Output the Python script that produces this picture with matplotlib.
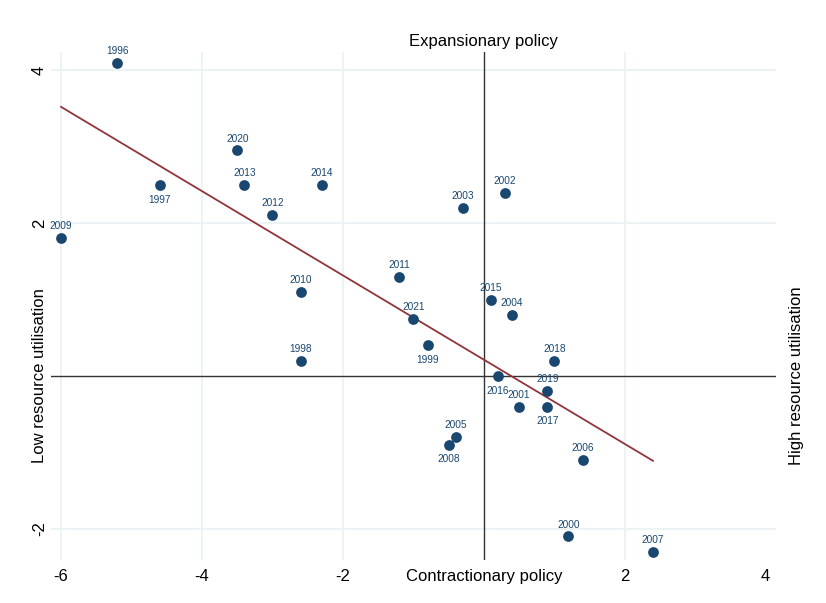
import matplotlib.pyplot as plt

# data
years = ['1996', '1997', '1998', '1999', '2000', '2001', '2002', '2003', '2004',
         '2005', '2006', '2007', '2008', '2009', '2010', '2011', '2012', '2013',
         '2014', '2015', '2016', '2017', '2018', '2019', '2020', '2021']
x_vals = [-5.2, -4.6, -2.6, -0.8, 1.2, 0.5, 0.3, -0.3, 0.4,
          -0.4, 1.4, 2.4, -0.5, -6.0, -2.6, -1.2, -3.0, -3.4,
          -2.3, 0.1, 0.2, 0.9, 1.0, 0.9, -3.5, -1.0]
y_vals = [4.1, 2.5, 0.2, 0.4, -2.1, -0.4, 2.4, 2.2, 0.8,
          -0.8, -1.1, -2.3, -0.9, 1.8, 1.1, 1.3, 2.1, 2.5,
          2.5, 1.0, 0.0, -0.4, 0.2, -0.2, 2.95, 0.75]
below = ['1997', '1999', '2016', '2017', '2008']

fit_x = [-6.0, 2.4]
fit_y = [3.52, -1.11]

x_ticks = [-6, -4, -2, 0, 2, 4]
x_ticklabels = ['-6', '-4', '-2', 'Contractionary policy', '2', '4']
y_ticks = [-2, 0, 2, 4]
y_ticklabels = ['-2', 'Low resource utilisation', '2', '4']

plt.rcParams['font.family'] = ['Liberation Sans', 'DejaVu Sans']

navy = '#1a476f'
maroon = '#90353b'
gridc = '#eaf2f3'

fig = plt.figure(figsize=(8.26, 6.03), dpi=100)
ax = fig.add_axes([0.062, 0.071, 0.877, 0.843])

for v in [-6, -4, -2, 2]:
    ax.axvline(v, color=gridc, lw=1.3, zorder=0)
for v in [-2, 2, 4]:
    ax.axhline(v, color=gridc, lw=1.3, zorder=0)
ax.axvline(0, color='#333333', lw=1.0, zorder=1)
ax.axhline(0, color='#333333', lw=1.0, zorder=1)

ax.plot(fit_x, fit_y, color=maroon, lw=1.3, zorder=2)
ax.scatter(x_vals, y_vals, s=60, color=navy, zorder=3, linewidths=0)

for yr, xv, yv in zip(years, x_vals, y_vals):
    if yr in below:
        ax.annotate(yr, (xv, yv), xytext=(0, -7), textcoords='offset points',
                    ha='center', va='top', fontsize=7.3, color=navy)
    else:
        ax.annotate(yr, (xv, yv), xytext=(0, 5), textcoords='offset points',
                    ha='center', va='bottom', fontsize=7.3, color=navy)

ax.set_xlim(-6.14, 4.14)
ax.set_ylim(-2.41, 4.24)
ax.set_xticks(x_ticks)
ax.set_xticklabels(x_ticklabels, fontsize=12)
ax.set_yticks(y_ticks)
ax.set_yticklabels(y_ticklabels, fontsize=12, rotation=90, va='center')
ax.tick_params(axis='x', length=0, pad=6)
ax.tick_params(axis='y', length=0, pad=3)
for s in ax.spines.values():
    s.set_visible(False)

ax.text(0, 1.005, 'Expansionary policy', transform=ax.get_xaxis_transform(),
        ha='center', va='bottom', fontsize=12)
ax.text(1.029, 0, 'High resource utilisation', transform=ax.get_yaxis_transform(),
        ha='center', va='center', rotation=90, fontsize=12)

fig.savefig('out.png', dpi=100)
